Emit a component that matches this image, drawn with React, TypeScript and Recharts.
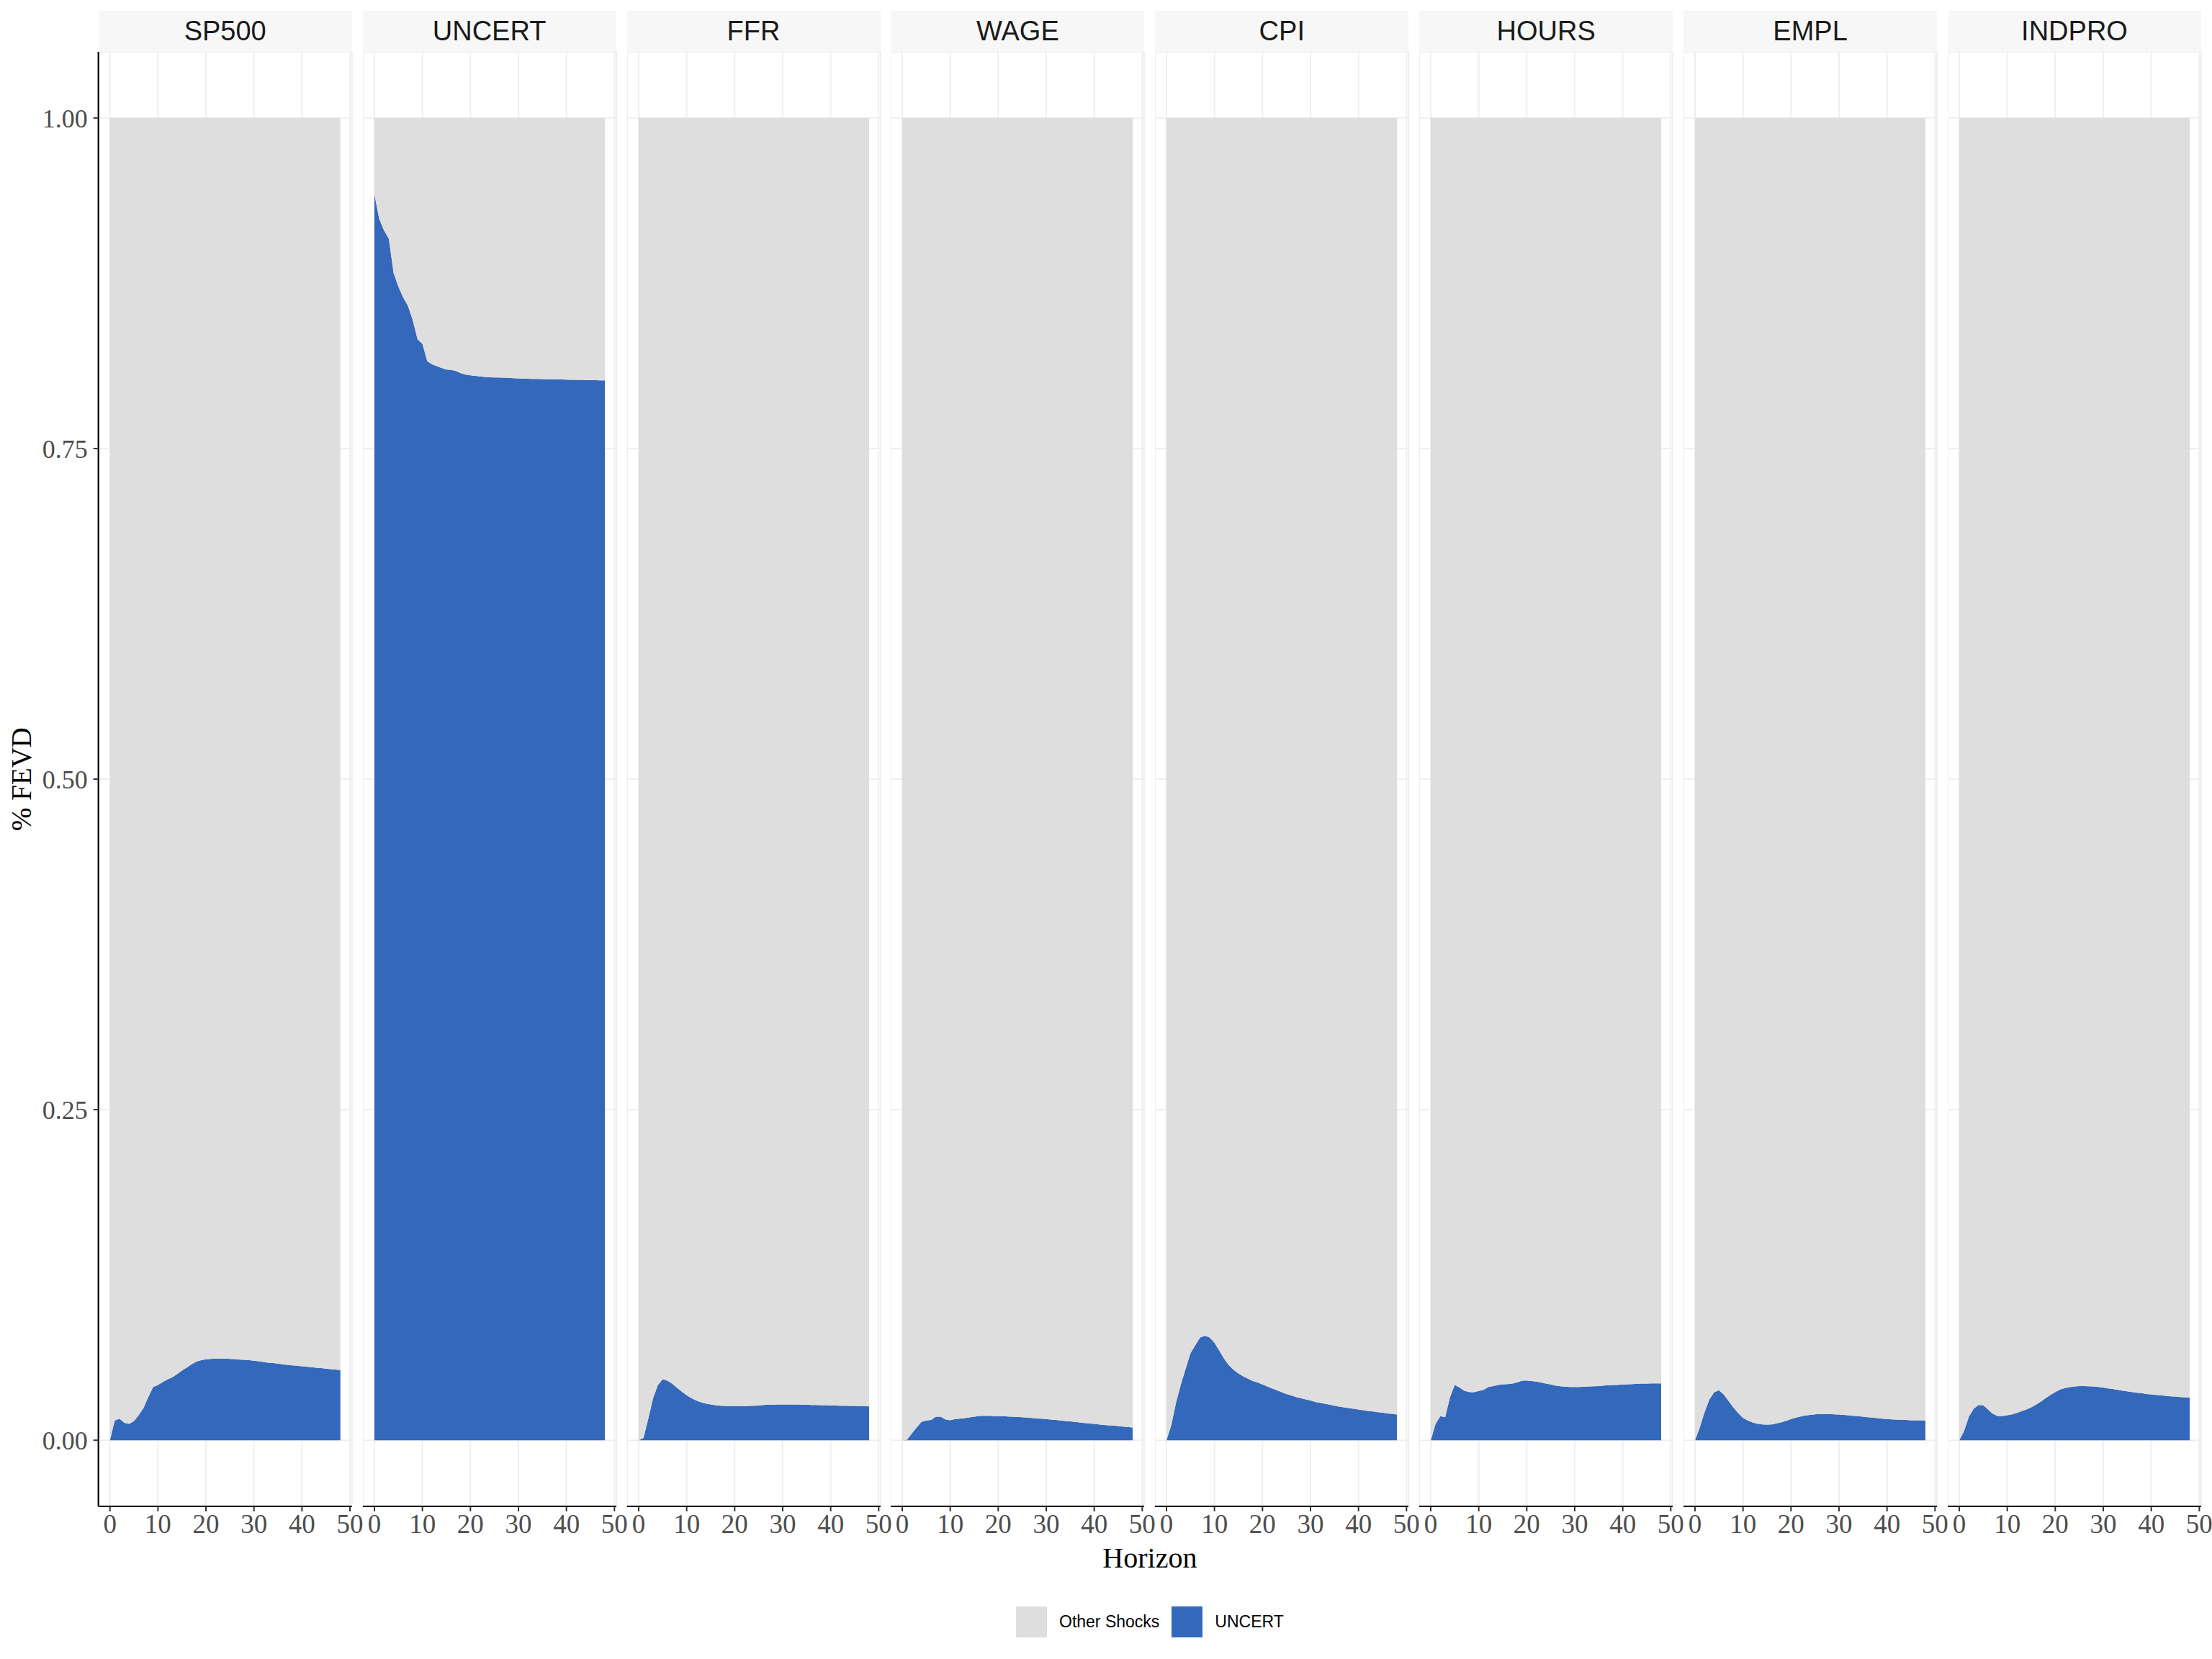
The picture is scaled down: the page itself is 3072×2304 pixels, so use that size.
import { AreaChart, Area, XAxis, YAxis, CartesianGrid } from 'recharts'

// horizons 0..48
const HORIZONS = [
  0, 1, 2, 3, 4, 5, 6, 7, 8, 9, 10, 11, 12, 13, 14, 15, 16, 17, 18, 19, 20, 21, 22, 23, 24,
  25, 26, 27, 28, 29, 30, 31, 32, 33, 34, 35, 36, 37, 38, 39, 40, 41, 42, 43, 44, 45, 46, 47, 48,
]

const VARIABLES = ['SP500', 'UNCERT', 'FFR', 'WAGE', 'CPI', 'HOURS', 'EMPL', 'INDPRO']

// share of FEVD explained by the UNCERT shock, per variable
const SP500 = [
  0, 0.0149, 0.0163, 0.0131, 0.0123, 0.0145, 0.019, 0.0245, 0.0327, 0.0403,
  0.0418, 0.044, 0.046, 0.0476, 0.05, 0.0527, 0.055, 0.0574, 0.0595, 0.0606,
  0.0612, 0.0615, 0.0617, 0.0617, 0.0617, 0.0615, 0.0614, 0.061, 0.0608, 0.0605,
  0.0601, 0.0597, 0.0592, 0.0586, 0.0583, 0.0579, 0.0574, 0.057, 0.0566, 0.0563,
  0.0559, 0.0556, 0.0552, 0.0548, 0.0545, 0.0541, 0.0537, 0.0534, 0.053,
]
const UNCERT = [
  0.9423, 0.9237, 0.915, 0.9087, 0.8827, 0.8724, 0.8642, 0.8578, 0.8469, 0.8324,
  0.8292, 0.8161, 0.8137, 0.8123, 0.811, 0.8097, 0.8094, 0.8086, 0.807, 0.8059,
  0.8054, 0.805, 0.8046, 0.8041, 0.8039, 0.8037, 0.8037, 0.8036, 0.8034, 0.8032,
  0.803, 0.8029, 0.8028, 0.8027, 0.8026, 0.8025, 0.8025, 0.8024, 0.8023, 0.8022,
  0.8021, 0.802, 0.8019, 0.8019, 0.8018, 0.8017, 0.8017, 0.8016, 0.8015,
]
const FFR = [
  0, 0.0018, 0.0163, 0.0318, 0.0418, 0.0461, 0.045, 0.0427, 0.0396, 0.0367,
  0.034, 0.0318, 0.03, 0.0287, 0.0278, 0.0271, 0.0265, 0.0261, 0.026, 0.0258,
  0.0258, 0.0258, 0.0258, 0.026, 0.0261, 0.0263, 0.0267, 0.0269, 0.0269, 0.0271,
  0.0271, 0.0271, 0.0271, 0.0271, 0.0269, 0.0269, 0.0267, 0.0267, 0.0265, 0.0265,
  0.0263, 0.0263, 0.0261, 0.0261, 0.026, 0.026, 0.0258, 0.0258, 0.0256,
]
const WAGE = [
  0, 0.0004, 0.0051, 0.0096, 0.0138, 0.0149, 0.0154, 0.0178, 0.0178, 0.0158,
  0.0151, 0.016, 0.0163, 0.0167, 0.0172, 0.0178, 0.0183, 0.0185, 0.0185, 0.0183,
  0.0182, 0.0182, 0.018, 0.0178, 0.0176, 0.0174, 0.0171, 0.0169, 0.0165, 0.0163,
  0.016, 0.0156, 0.0153, 0.0149, 0.0145, 0.0142, 0.0138, 0.0134, 0.0131, 0.0127,
  0.0123, 0.012, 0.0116, 0.0113, 0.0111, 0.0107, 0.0103, 0.01, 0.0096,
]
const CPI = [
  0, 0.0114, 0.0287, 0.0423, 0.0541, 0.0659, 0.0719, 0.0777, 0.079, 0.0777,
  0.0737, 0.0677, 0.0617, 0.0568, 0.0532, 0.0505, 0.0483, 0.0465, 0.0448, 0.0436,
  0.0421, 0.0407, 0.0392, 0.0378, 0.0363, 0.035, 0.0338, 0.0327, 0.0318, 0.0309,
  0.03, 0.029, 0.0283, 0.0276, 0.0269, 0.0261, 0.0254, 0.0249, 0.0243, 0.0238,
  0.0232, 0.0227, 0.0221, 0.0218, 0.0212, 0.0209, 0.0203, 0.02, 0.0194,
]
const HOURS = [
  0, 0.0123, 0.0182, 0.0174, 0.0323, 0.0419, 0.0399, 0.0374, 0.0365, 0.0363,
  0.0372, 0.0381, 0.0403, 0.041, 0.0418, 0.0423, 0.0425, 0.0428, 0.0438, 0.045,
  0.0452, 0.0448, 0.0443, 0.0436, 0.0428, 0.0421, 0.0414, 0.0408, 0.0405, 0.0403,
  0.0403, 0.0403, 0.0405, 0.0407, 0.0408, 0.041, 0.0414, 0.0416, 0.0418, 0.0419,
  0.0421, 0.0423, 0.0425, 0.0427, 0.0428, 0.0429, 0.043, 0.043, 0.043,
]
const EMPL = [
  0, 0.0096, 0.0214, 0.0309, 0.0363, 0.0378, 0.0345, 0.0296, 0.0247, 0.0205,
  0.0169, 0.0149, 0.0134, 0.0125, 0.012, 0.0118, 0.012, 0.0127, 0.0136, 0.0147,
  0.016, 0.0171, 0.018, 0.0187, 0.0192, 0.0196, 0.0198, 0.0198, 0.0198, 0.0196,
  0.0194, 0.0191, 0.0189, 0.0185, 0.0182, 0.0178, 0.0174, 0.0171, 0.0167, 0.0163,
  0.016, 0.0158, 0.0156, 0.0154, 0.0153, 0.0151, 0.0151, 0.0151, 0.0149,
]
const INDPRO = [
  0, 0.0069, 0.0178, 0.0238, 0.0267, 0.0265, 0.0232, 0.02, 0.0183, 0.0183,
  0.0189, 0.0196, 0.0207, 0.022, 0.0232, 0.0249, 0.0269, 0.0292, 0.0318, 0.0343,
  0.0365, 0.0383, 0.0394, 0.0401, 0.0407, 0.041, 0.041, 0.0408, 0.0407, 0.0403,
  0.0398, 0.0392, 0.0387, 0.0381, 0.0376, 0.037, 0.0365, 0.0359, 0.0356, 0.035,
  0.0347, 0.0343, 0.034, 0.0336, 0.0332, 0.033, 0.0327, 0.0325, 0.0323,
]

const SERIES = [SP500, UNCERT, FFR, WAGE, CPI, HOURS, EMPL, INDPRO]

const X_TICKS = [0, 10, 20, 30, 40, 50]
const Y_TICKS = [0, 0.25, 0.5, 0.75, 1]
const LEGEND_LABELS = ['Other Shocks', 'UNCERT']

const BLUE = '#3468BA'
const GREY = '#DEDEDE'
const SERIF = '"Liberation Serif", "Times New Roman", serif'
const SANS = '"Liberation Sans", Arial, sans-serif'

// layout (page pixels)
const PANEL_LEFT0 = 136.7
const PANEL_STEP = 366.9
const PANEL_W = 352
const STRIP_TOP = 14.5
const PLOT_TOP = 72
const PLOT_H = 2020
const XAXIS_H = 70
const Y_AXIS_W = 136.7
const RIGHT_PAD = 30 // room for the "50" label that spills past the panel

function Panel({ name, values, index }: { name: string; values: number[]; index: number }) {
  const data = HORIZONS.map((h, i) => ({ h, uncert: values[i], other: 1 - values[i] }))
  const first = index === 0
  const left = PANEL_LEFT0 + index * PANEL_STEP
  const yw = first ? Y_AXIS_W : 0

  return (
    <>
      <div
        style={{
          position: 'absolute',
          left,
          top: STRIP_TOP,
          width: PANEL_W,
          height: PLOT_TOP - STRIP_TOP,
          background: '#f7f7f7',
          display: 'flex',
          alignItems: 'center',
          justifyContent: 'center',
          fontFamily: SANS,
          fontSize: 38,
          color: '#1a1a1a',
        }}
      >
        {name}
      </div>
      <div style={{ position: 'absolute', left: left - yw, top: PLOT_TOP }}>
        <AreaChart
          width={PANEL_W + yw + RIGHT_PAD}
          height={PLOT_H + XAXIS_H}
          data={data}
          margin={{ top: 0, right: RIGHT_PAD, bottom: 0, left: 0 }}
        >
          <CartesianGrid stroke="#efefef" strokeWidth={2} />
          <XAxis
            dataKey="h"
            type="number"
            domain={[-2.4, 50.4]}
            ticks={X_TICKS}
            interval={0}
            allowDataOverflow
            height={XAXIS_H}
            axisLine={{ stroke: '#000', strokeWidth: 2.2 }}
            tickLine={{ stroke: '#333', strokeWidth: 2 }}
            tickSize={7}
            tickMargin={4}
            tick={{ fontFamily: SERIF, fontSize: 37, fill: '#4d4d4d' }}
          />
          <YAxis
            hide={!first}
            width={yw}
            type="number"
            domain={[-0.05, 1.05]}
            ticks={Y_TICKS}
            interval={0}
            allowDataOverflow
            axisLine={{ stroke: '#000', strokeWidth: 2.2 }}
            tickLine={{ stroke: '#333', strokeWidth: 2 }}
            tickSize={7}
            tickMargin={8}
            tickFormatter={(v: number) => v.toFixed(2)}
            tick={{ fontFamily: SERIF, fontSize: 36, fill: '#4d4d4d' }}
          />
          <Area
            type="linear"
            dataKey="uncert"
            stackId="fevd"
            stroke="none"
            fill={BLUE}
            fillOpacity={1}
            isAnimationActive={false}
          />
          <Area
            type="linear"
            dataKey="other"
            stackId="fevd"
            stroke="none"
            fill={GREY}
            fillOpacity={1}
            isAnimationActive={false}
          />
        </AreaChart>
      </div>
    </>
  )
}

export default function App() {
  const plotCenterX = (PANEL_LEFT0 + PANEL_LEFT0 + 7 * PANEL_STEP + PANEL_W) / 2
  return (
    <div
      style={{
        position: 'absolute',
        left: 0,
        top: 0,
        width: 3072,
        height: 2304,
        background: '#fff',
        overflow: 'hidden',
      }}
    >
      {VARIABLES.map((name, i) => (
        <Panel key={name} name={name} values={SERIES[i]} index={i} />
      ))}

      {/* y axis title */}
      <div
        style={{
          position: 'absolute',
          left: 29,
          top: PLOT_TOP + PLOT_H / 2,
          transform: 'translate(-50%, -50%) rotate(-90deg)',
          whiteSpace: 'nowrap',
          fontFamily: SERIF,
          fontSize: 39,
          color: '#000',
        }}
      >
        % FEVD
      </div>

      {/* x axis title */}
      <div
        style={{
          position: 'absolute',
          left: plotCenterX,
          top: 2163,
          transform: 'translate(-50%, -50%)',
          whiteSpace: 'nowrap',
          fontFamily: SERIF,
          fontSize: 40,
          color: '#000',
        }}
      >
        Horizon
      </div>

      {/* legend */}
      <div
        style={{
          position: 'absolute',
          left: 1411,
          top: 2231,
          height: 43,
          display: 'flex',
          alignItems: 'center',
          fontFamily: SANS,
          fontSize: 23,
          color: '#000',
          whiteSpace: 'nowrap',
        }}
      >
        {LEGEND_LABELS.map((label, i) => (
          <div key={label} style={{ display: 'flex', alignItems: 'center', marginLeft: i === 0 ? 0 : 17 }}>
            <div style={{ width: 43, height: 43, background: i === 0 ? GREY : BLUE }} />
            <span style={{ marginLeft: 17 }}>{label}</span>
          </div>
        ))}
      </div>
    </div>
  )
}
